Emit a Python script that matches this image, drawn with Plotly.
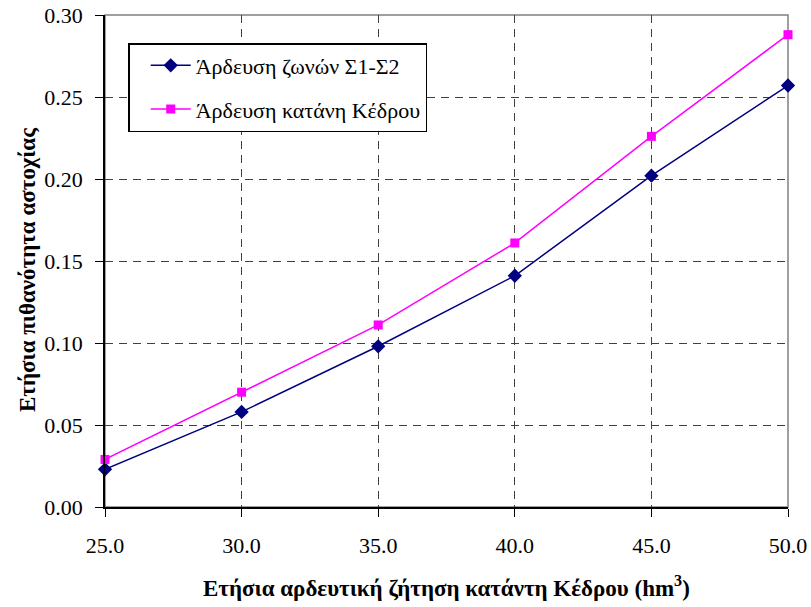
import plotly.graph_objects as go

demand = [25.0, 30.0, 35.0, 40.0, 45.0, 50.0]
zones_s1s2 = [0.023, 0.058, 0.098, 0.141, 0.202, 0.257]
downstream_kedros = [0.029, 0.070, 0.111, 0.161, 0.226, 0.288]
name_a = "Άρδευση ζωνών Σ1-Σ2"
name_b = "Άρδευση κατάνη Κέδρου"
x_ticks = [25, 30, 35, 40, 45, 50]
x_ticklabels = ["25.0", "30.0", "35.0", "40.0", "45.0", "50.0"]
y_ticks = [0, 0.05, 0.10, 0.15, 0.20, 0.25, 0.30]
x_title = "<b>Ετήσια αρδευτική ζήτηση κατάντη Κέδρου (hm<sup>3</sup>)</b>"
y_title = "<b>Ετήσια πιθανότητα αστοχίας</b>"

FONT = "Times New Roman, Liberation Serif, DejaVu Serif, serif"

fig = go.Figure()
fig.add_trace(go.Scatter(
    x=demand, y=zones_s1s2, mode="lines+markers", name=name_a, legendgroup="a",
    line=dict(color="#000080", width=1.5),
    marker=dict(symbol="diamond", size=11, color="#000080"),
    cliponaxis=False))
fig.add_trace(go.Scatter(
    x=demand, y=downstream_kedros, mode="lines+markers", name=name_b, legendgroup="b",
    line=dict(color="#FF00FF", width=1.5),
    marker=dict(symbol="square", size=9, color="#FF00FF"),
    cliponaxis=False))

fig.add_shape(type="rect", xref="paper", yref="paper", x0=0, y0=0, x1=1, y1=1,
              line=dict(color="#808080", width=1.5), layer="below")

fig.add_annotation(text=x_title, xref="paper", yref="paper", x=0.5, y=0,
                   yshift=-79, xanchor="center", yanchor="middle", showarrow=False,
                   font=dict(family=FONT, size=23, color="black"))
fig.add_annotation(text=y_title, xref="paper", yref="paper", x=0, y=0.5,
                   xshift=-78, yshift=-9, textangle=-90, xanchor="center", yanchor="middle",
                   showarrow=False, font=dict(family=FONT, size=23, color="black"))

fig.update_layout(
    width=811, height=607,
    margin=dict(l=105, r=23, t=15, b=100, autoexpand=False),
    paper_bgcolor="white", plot_bgcolor="white",
    font=dict(family=FONT, size=22, color="black"),
    legend=dict(x=0.034, y=0.943, xanchor="left", yanchor="top",
                bgcolor="white", bordercolor="black", borderwidth=1.5,
                font=dict(family=FONT, size=22), tracegroupgap=12,
                itemwidth=40, indentation=16),
    xaxis=dict(range=[25, 50], tickvals=x_ticks, ticktext=x_ticklabels,
               showline=True, linecolor="black", linewidth=1.5,
               ticks="outside", ticklen=8, tickcolor="black",
               showgrid=True, gridcolor="#404040", gridwidth=1, griddash="8px,6px",
               zeroline=False, tickfont=dict(family=FONT, size=22),
               ticklabelstandoff=10, automargin=False),
    yaxis=dict(range=[0, 0.30], tickvals=y_ticks, tickformat=".2f",
               showline=True, linecolor="black", linewidth=1.5,
               ticks="outside", ticklen=8, tickcolor="black",
               showgrid=True, gridcolor="#404040", gridwidth=1, griddash="8px,6px",
               zeroline=False, tickfont=dict(family=FONT, size=22),
               ticklabelstandoff=8, automargin=False),
)

fig.write_html("out.html", config={"displayModeBar": False})
with open("out.html", encoding="utf-8") as f:
    html = f.read()
html = html.replace("<body>", '<body style="margin:0;padding:0">', 1)
with open("out.html", "w", encoding="utf-8") as f:
    f.write(html)
